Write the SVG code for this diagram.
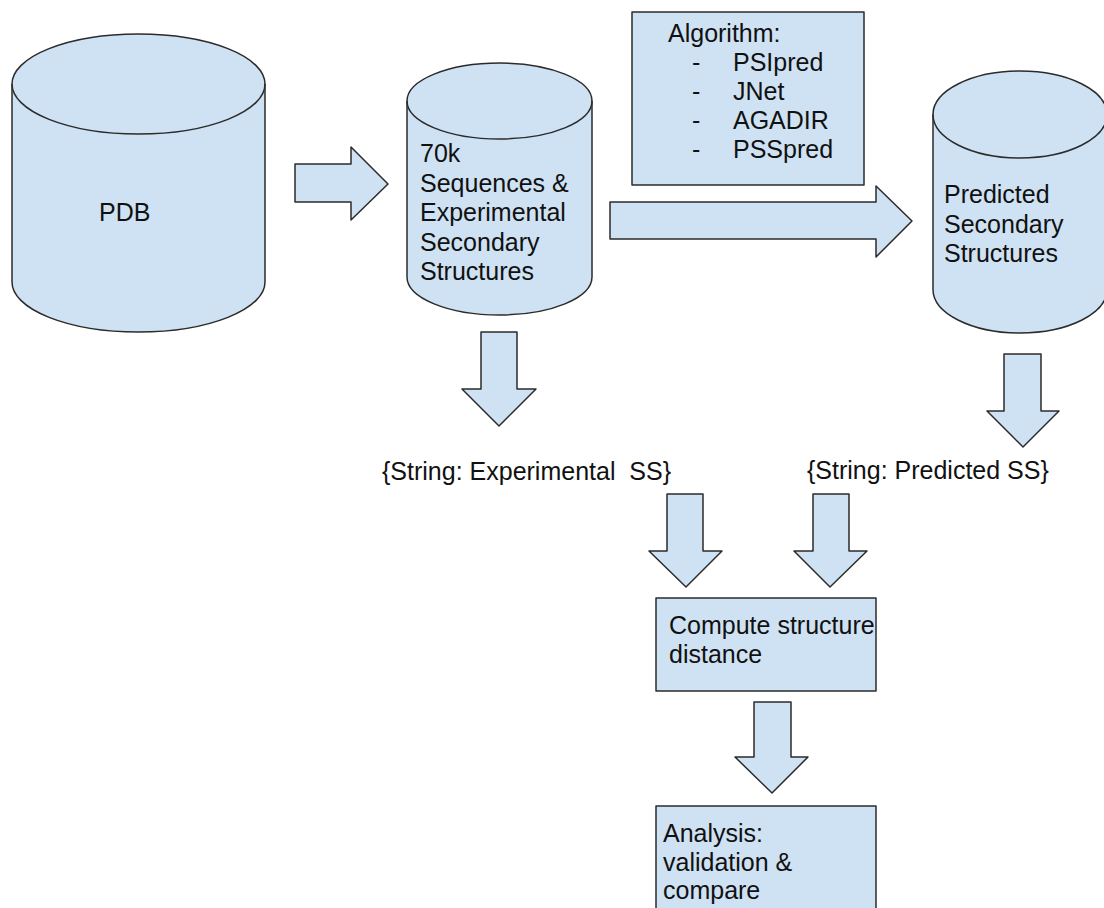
<svg xmlns="http://www.w3.org/2000/svg" width="1104" height="908" viewBox="0 0 1104 908">
  <style>
    .shape { fill: #cfe2f3; stroke: #2b2b2b; stroke-width: 1.5; stroke-linejoin: round; }
    .rim { fill: none; stroke: #2b2b2b; stroke-width: 1.5; }
    .label { font-family: "Liberation Sans", Arial, sans-serif; font-size: 25px; fill: #111; white-space: pre; }
  </style>
  <rect width="1104" height="908" fill="#ffffff"/>

  <!-- Data stores (cylinders) -->
  <g id="node-pdb">
    <path class="shape" d="M12,84 L12,282 A126.5,50 0 0 0 265,282 L265,84 A126.5,50 0 0 0 12,84 Z"/>
    <path class="rim" d="M12,84 A126.5,50 0 0 0 265,84"/>
    <text class="label" x="99" y="221">PDB</text>
  </g>

  <g id="node-experimental-db">
    <path class="shape" d="M407,101 L407,277 A92.5,38 0 0 0 592,277 L592,101 A92.5,38 0 0 0 407,101 Z"/>
    <path class="rim" d="M407,101 A92.5,38 0 0 0 592,101"/>
    <text class="label" x="420" y="162">70k</text>
    <text class="label" x="420" y="191.5">Sequences &amp;</text>
    <text class="label" x="420" y="221">Experimental</text>
    <text class="label" x="420" y="250.5">Secondary</text>
    <text class="label" x="420" y="280">Structures</text>
  </g>

  <g id="node-algorithm">
    <rect class="shape" x="632" y="12" width="232" height="173"/>
    <text class="label" x="668" y="42">Algorithm:</text>
    <text class="label" x="692" y="71">-</text>
    <text class="label" x="733" y="71">PSIpred</text>
    <text class="label" x="692" y="100">-</text>
    <text class="label" x="733" y="100">JNet</text>
    <text class="label" x="692" y="129">-</text>
    <text class="label" x="733" y="129">AGADIR</text>
    <text class="label" x="692" y="158">-</text>
    <text class="label" x="733" y="158">PSSpred</text>
  </g>

  <g id="node-predicted-db">
    <path class="shape" d="M933,114.5 L933,289.5 A87,43.5 0 0 0 1107,289.5 L1107,114.5 A87,43.5 0 0 0 933,114.5 Z"/>
    <path class="rim" d="M933,114.5 A87,43.5 0 0 0 1107,114.5"/>
    <text class="label" x="944" y="203">Predicted</text>
    <text class="label" x="944" y="232.5">Secondary</text>
    <text class="label" x="944" y="262">Structures</text>
  </g>

  <g id="node-experimental-ss">
    <text class="label" x="382" y="480">{String: Experimental  SS}</text>
  </g>

  <g id="node-predicted-ss">
    <text class="label" x="807" y="479">{String: Predicted SS}</text>
  </g>

  <g id="node-compute">
    <rect class="shape" x="656" y="598" width="220" height="93"/>
    <text class="label" x="669" y="634">Compute structure</text>
    <text class="label" x="669" y="663">distance</text>
  </g>

  <g id="node-analysis">
    <rect class="shape" x="656" y="806" width="220" height="140"/>
    <text class="label" x="663" y="842">Analysis:</text>
    <text class="label" x="663" y="870.5">validation &amp;</text>
    <text class="label" x="663" y="899">compare</text>
  </g>

  <!-- Block arrows between steps -->
  <g id="connectors">
    <polygon class="shape" points="295,164 351,164 351,147 388,184 351,220 351,202 295,202"/>
    <polygon class="shape" points="610,202 876,202 876,186 912,221 876,257 876,239 610,239"/>
    <polygon class="shape" points="481,332 517,332 517,389 536,389 499,426 462,389 481,389"/>
    <polygon class="shape" points="1004,354 1041,354 1041,411 1059,411 1023,447 987,411 1004,411"/>
    <polygon class="shape" points="667,494 703,494 703,551 722,551 686,587 649,551 667,551"/>
    <polygon class="shape" points="813,494 849,494 849,551 867,551 830,587 794,551 813,551"/>
    <polygon class="shape" points="754,702 791,702 791,757 808,757 772,793 735,757 754,757"/>
  </g>
</svg>
